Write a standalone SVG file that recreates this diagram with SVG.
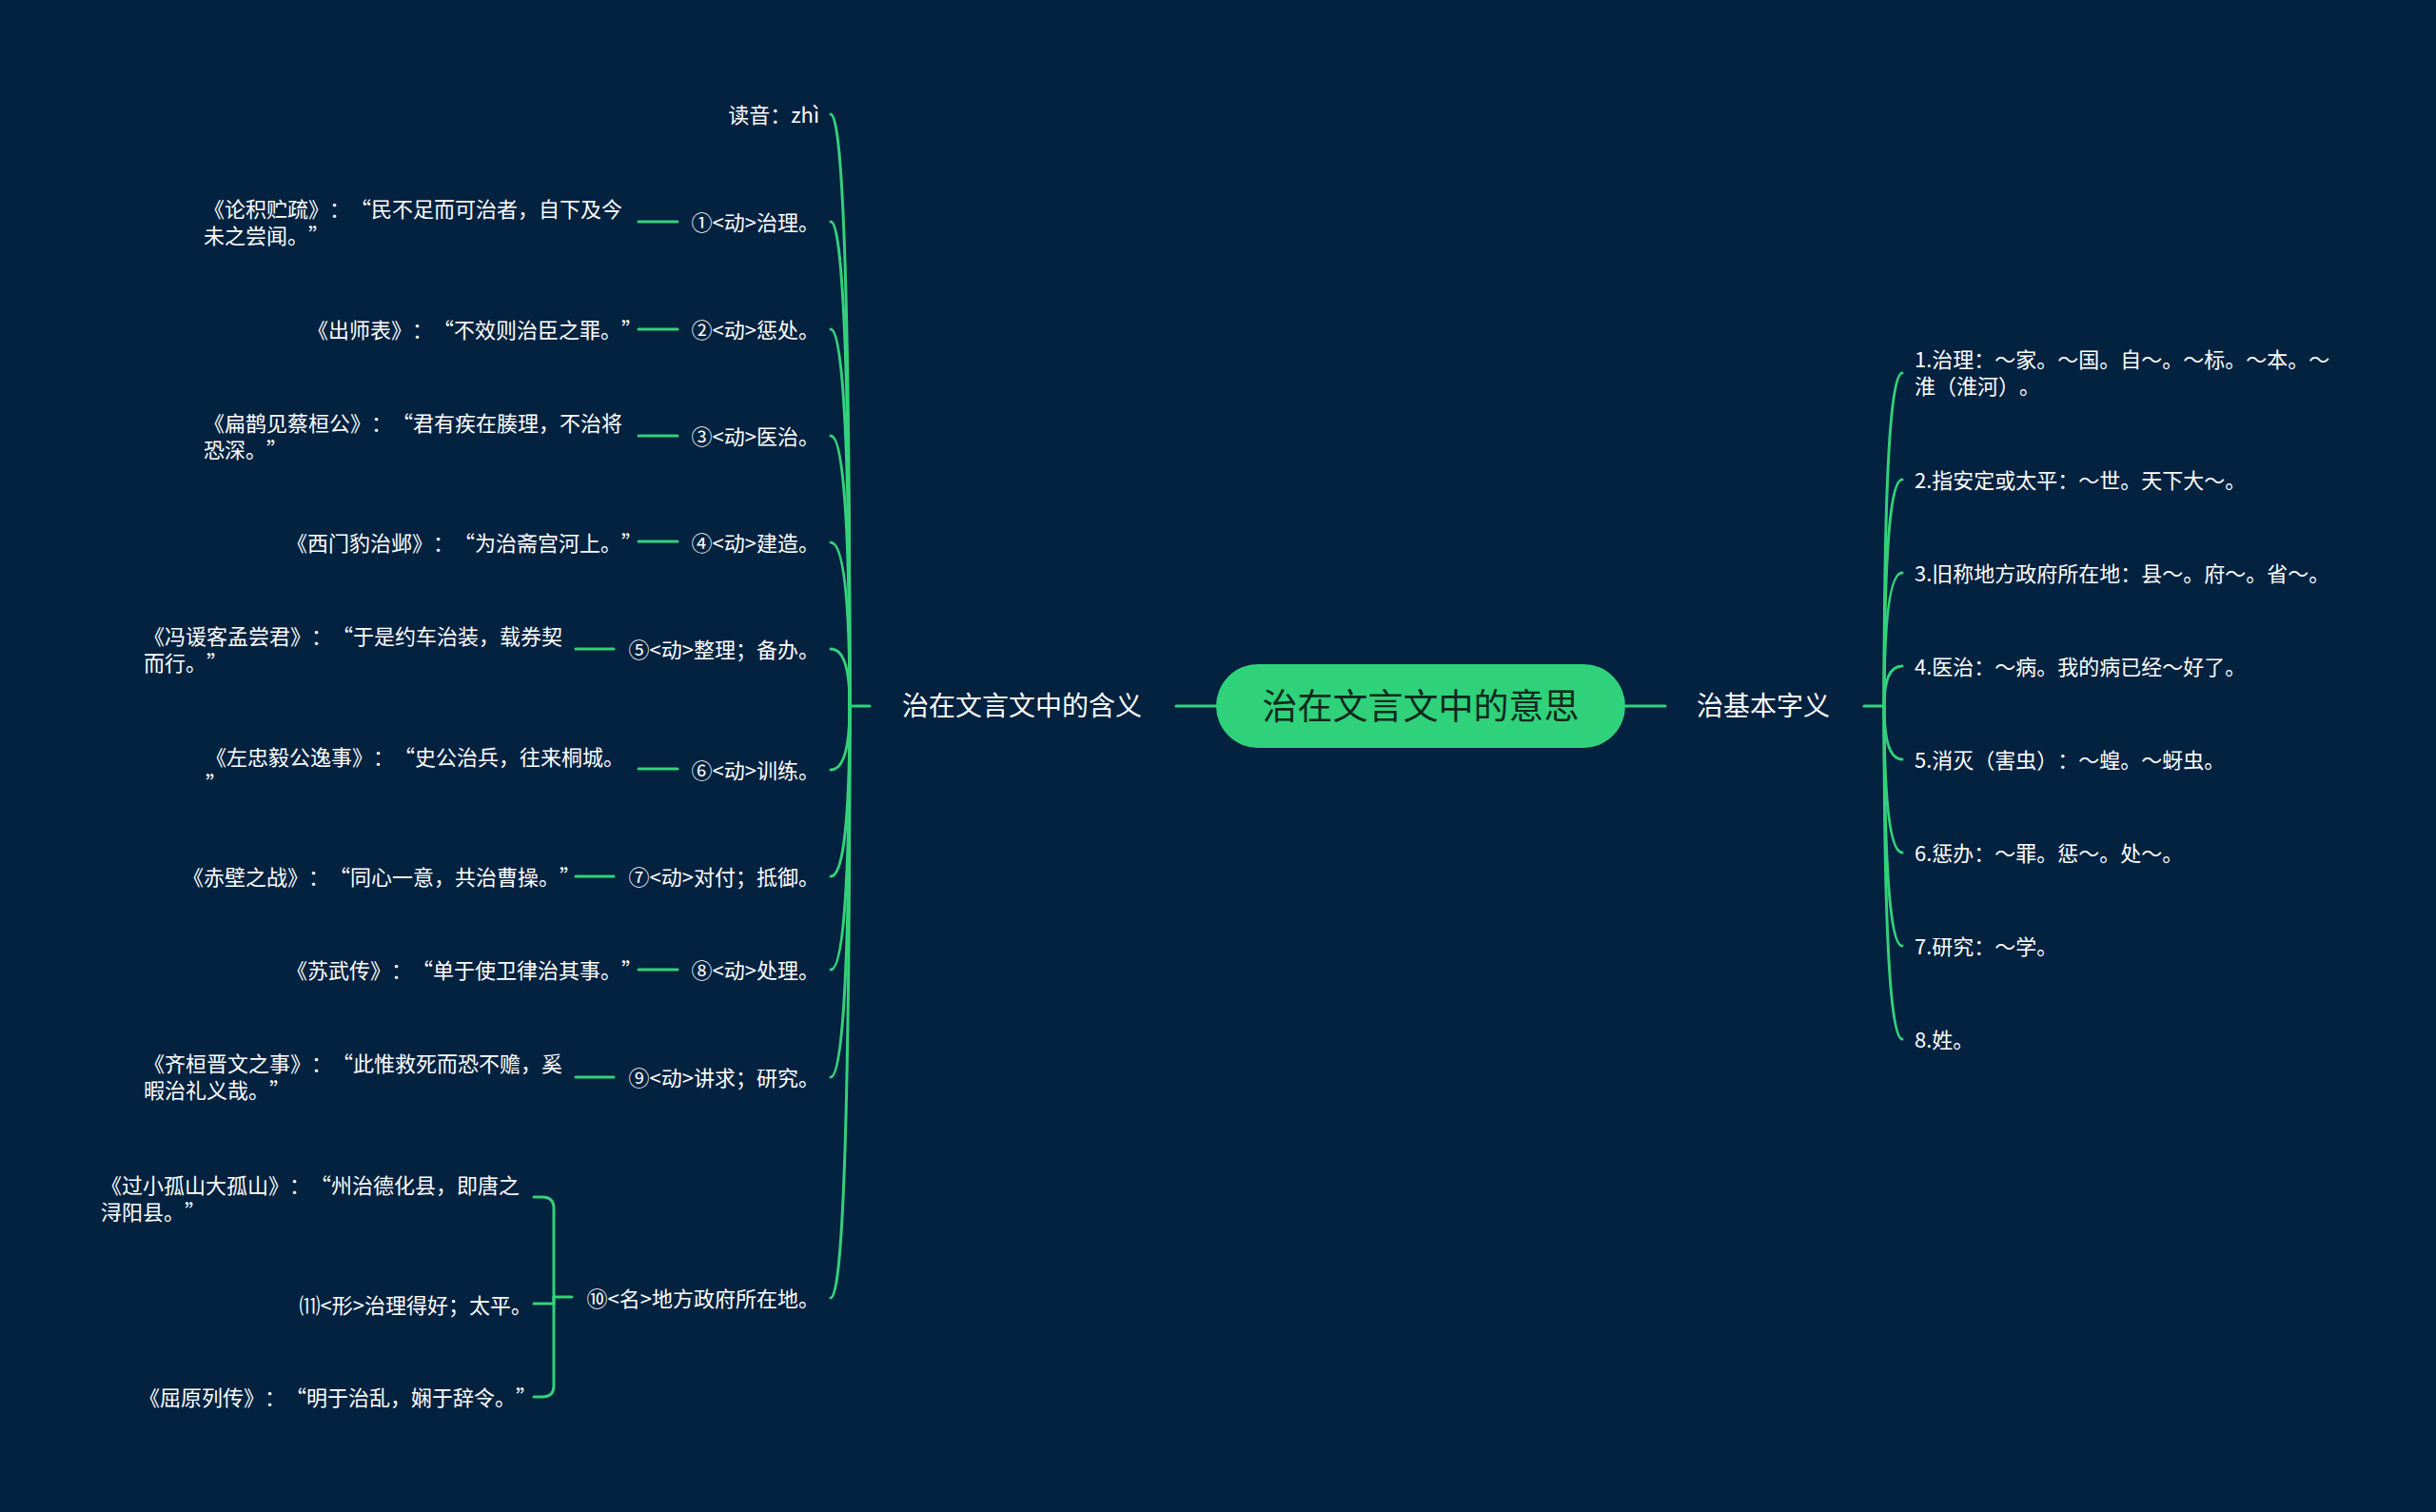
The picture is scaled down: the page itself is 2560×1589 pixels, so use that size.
<svg xmlns="http://www.w3.org/2000/svg" width="2560" height="1589" viewBox="0 0 2560 1589">
<style>
text{font-family:"Noto Sans CJK SC","Liberation Sans",sans-serif;fill:#ffffff;font-size:22px;dominant-baseline:central;text-spacing-trim:space-all}
.e{text-anchor:end}
.lbl{font-size:28px}
.title{font-size:37px;fill:#10291d;text-anchor:middle}
.c path,.c line{fill:none;stroke:#33d17a;stroke-width:3;stroke-linecap:round}
</style>
<rect width="2560" height="1589" fill="#022240"/>
<g class="c" id="connectors">
<line x1="1236" y1="742" x2="1278" y2="742"/>
<line x1="1708" y1="742" x2="1750" y2="742"/>
<line x1="893" y1="742" x2="914" y2="742"/>
<line x1="1959" y1="742" x2="1980" y2="742"/>
<path d="M893 742 Q893 120 873 120"/>
<path d="M893 742 Q893 233 873 233"/>
<path d="M893 742 Q893 346 873 346"/>
<path d="M893 742 Q893 458 873 458"/>
<path d="M893 742 Q893 570 873 570"/>
<path d="M893 742 Q893 682 873 682"/>
<path d="M893 742 Q893 809 873 809"/>
<path d="M893 742 Q893 921 873 921"/>
<path d="M893 742 Q893 1019 873 1019"/>
<path d="M893 742 Q893 1132 873 1132"/>
<path d="M893 742 Q893 1364 873 1364"/>
<path d="M1980 742 Q1980 392 1999 392"/>
<path d="M1980 742 Q1980 504 1999 504"/>
<path d="M1980 742 Q1980 602 1999 602"/>
<path d="M1980 742 Q1980 700 1999 700"/>
<path d="M1980 742 Q1980 798 1999 798"/>
<path d="M1980 742 Q1980 896 1999 896"/>
<path d="M1980 742 Q1980 994 1999 994"/>
<path d="M1980 742 Q1980 1092 1999 1092"/>
<line x1="671" y1="233" x2="712" y2="233"/>
<line x1="671" y1="346" x2="712" y2="346"/>
<line x1="671" y1="458" x2="712" y2="458"/>
<line x1="671" y1="569" x2="712" y2="569"/>
<line x1="605" y1="682" x2="645" y2="682"/>
<line x1="671" y1="808" x2="712" y2="808"/>
<line x1="605" y1="921" x2="645" y2="921"/>
<line x1="671" y1="1019" x2="712" y2="1019"/>
<line x1="605" y1="1132" x2="645" y2="1132"/>
<line x1="582" y1="1363" x2="601" y2="1363"/>
<path d="M582 1363 V1270 Q582 1258 570 1258 H561"/>
<path d="M582 1363 V1456 Q582 1468 570 1468 H561"/>
<path d="M582 1363 V1370 H561"/>
</g>
<g id="root">
<rect x="1278" y="698" width="430" height="88" rx="44" fill="#2fd27a"/>
<text class="title" x="1493" y="740">治在文言文中的意思</text>
</g>
<g transform="translate(0,-2)">
<g id="branch-left"><text class="lbl" x="948" y="742">治在文言文中的含义</text></g>
<g id="branch-right"><text class="lbl" x="1783" y="742">治基本字义</text></g>
<g id="l0"><text class="e" x="861" y="121">读音：zhì</text></g>
<g id="l1"><text class="e" x="861" y="234">①&lt;动&gt;治理。</text></g>
<g id="l1a"><text x="214" y="220">《论积贮疏》：“民不足而可治者，自下及今</text><text x="214" y="248">未之尝闻。”</text></g>
<g id="l2"><text class="e" x="861" y="347">②&lt;动&gt;惩处。</text></g>
<g id="l2a"><text class="e" x="675" y="347">《出师表》：“不效则治臣之罪。”</text></g>
<g id="l3"><text class="e" x="861" y="459">③&lt;动&gt;医治。</text></g>
<g id="l3a"><text x="214" y="445">《扁鹊见蔡桓公》：“君有疾在腠理，不治将</text><text x="214" y="473">恐深。”</text></g>
<g id="l4"><text class="e" x="861" y="571">④&lt;动&gt;建造。</text></g>
<g id="l4a"><text class="e" x="675" y="571">《西门豹治邺》：“为治斋宫河上。”</text></g>
<g id="l5"><text class="e" x="861" y="683">⑤&lt;动&gt;整理；备办。</text></g>
<g id="l5a"><text x="151" y="669">《冯谖客孟尝君》：“于是约车治装，载券契</text><text x="151" y="697">而行。”</text></g>
<g id="l6"><text class="e" x="861" y="810">⑥&lt;动&gt;训练。</text></g>
<g id="l6a"><text x="216" y="796">《左忠毅公逸事》：“史公治兵，往来桐城。</text><text x="216" y="824">”</text></g>
<g id="l7"><text class="e" x="861" y="922">⑦&lt;动&gt;对付；抵御。</text></g>
<g id="l7a"><text class="e" x="610" y="922">《赤壁之战》：“同心一意，共治曹操。”</text></g>
<g id="l8"><text class="e" x="861" y="1020">⑧&lt;动&gt;处理。</text></g>
<g id="l8a"><text class="e" x="675" y="1020">《苏武传》：“单于使卫律治其事。”</text></g>
<g id="l9"><text class="e" x="861" y="1133">⑨&lt;动&gt;讲求；研究。</text></g>
<g id="l9a"><text x="151" y="1118">《齐桓晋文之事》：“此惟救死而恐不赡，奚</text><text x="151" y="1146">暇治礼义哉。”</text></g>
<g id="l10"><text class="e" x="861" y="1365">⑩&lt;名&gt;地方政府所在地。</text></g>
<g id="l10a"><text x="106" y="1246">《过小孤山大孤山》：“州治德化县，即唐之</text><text x="106" y="1274">浔阳县。”</text></g>
<g id="l10b"><text class="e" x="559" y="1372">⑾&lt;形&gt;治理得好；太平。</text></g>
<g id="l10c"><text class="e" x="564" y="1469">《屈原列传》：“明于治乱，娴于辞令。”</text></g>
<g id="r1"><text x="2012" y="378">1.治理：～家。～国。自～。～标。～本。～</text><text x="2012" y="406">淮（淮河）。</text></g>
<g id="r2"><text x="2012" y="505">2.指安定或太平：～世。天下大～。</text></g>
<g id="r3"><text x="2012" y="603">3.旧称地方政府所在地：县～。府～。省～。</text></g>
<g id="r4"><text x="2012" y="701">4.医治：～病。我的病已经～好了。</text></g>
<g id="r5"><text x="2012" y="799">5.消灭（害虫）：～蝗。～蚜虫。</text></g>
<g id="r6"><text x="2012" y="897">6.惩办：～罪。惩～。处～。</text></g>
<g id="r7"><text x="2012" y="995">7.研究：～学。</text></g>
<g id="r8"><text x="2012" y="1093">8.姓。</text></g>
</g>
</svg>
